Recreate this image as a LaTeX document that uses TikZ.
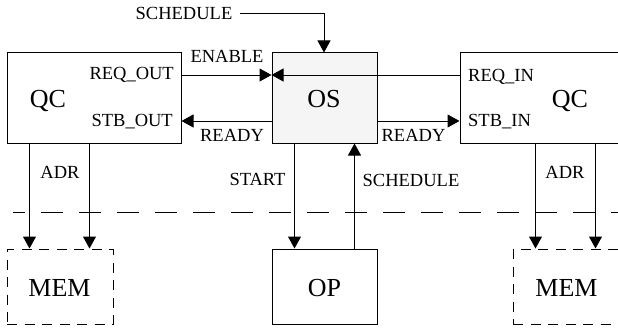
\documentclass[tikz,border=0pt]{standalone}
\usepackage{fontspec}
\setmainfont{Liberation Serif}
\usetikzlibrary{arrows.meta}
\begin{document}
\begin{tikzpicture}[x=1pt,y=-1pt,
  box/.style={draw,line width=1pt,inner sep=0pt},
  membox/.style={box,dash pattern=on 10pt off 7.5pt},
  arr/.style={line width=1pt,-{Triangle[length=12pt,width=13pt]}},
  sm/.style={inner sep=0pt,font=\fontsize{18.5}{20}\selectfont},
  big/.style={inner sep=0pt,font=\fontsize{26}{28}\selectfont}]
\useasboundingbox (0,0) rectangle (618,329);
% boxes
\node[box,minimum width=174pt,minimum height=90pt] (qcl) at (94,98) {};
\node[box,fill=black!4,minimum width=105pt,minimum height=90pt] (os) at (324.5,98) {};
\node[box,minimum width=170pt,minimum height=90pt] (qcr) at (545,98) {};
\node[box,minimum width=105pt,minimum height=75pt] (op) at (324.5,286.5) {};
\node[membox,minimum width=106pt,minimum height=75pt] (meml) at (60,286.5) {};
\node[membox,minimum width=120pt,minimum height=75pt] (memr) at (573,286.5) {};
% texts
\node[big,anchor=base] (tqcl) at (48,107) {QC};
\node[big,anchor=base] (tos) at (324,107) {OS};
\node[big,anchor=base] (tqcr) at (570,107) {QC};
\node[big,anchor=base] (top) at (324.5,296.5) {OP};
\node[big,anchor=base] (tmeml) at (59.5,296.5) {MEM};
\node[big,anchor=base] (tmemr) at (566.5,296.5) {MEM};
\node[sm,anchor=base east] (lreqo) at (174,79.5) {REQ\_OUT};
\node[sm,anchor=base east] (lstbo) at (173,126) {STB\_OUT};
\node[sm,anchor=base west] (lreqi) at (468,81.5) {REQ\_IN};
\node[sm,anchor=base west] (lstbi) at (468,126.5) {STB\_IN};
\node[sm,anchor=base] (lena) at (227,63) {ENABLE};
\node[sm,anchor=base] (lrdyl) at (232,141.5) {READY};
\node[sm,anchor=base] (lrdyr) at (413.5,141.5) {READY};
\node[sm,anchor=base] (lscht) at (184,19.5) {SCHEDULE};
\node[sm,anchor=base] (ladrl) at (60,178) {ADR};
\node[sm,anchor=base] (ladrr) at (565,178) {ADR};
\node[sm,anchor=base] (lstart) at (257.5,185) {START};
\node[sm,anchor=base] (lschb) at (411,186.5) {SCHEDULE};
% connectors
\draw[arr] ([yshift=23pt]qcl.east) -- ([yshift=23pt]os.west);
\draw[arr] ([yshift=23pt]qcr.west) -- ([yshift=23pt]os.west);
\draw[arr] ([yshift=-23pt]os.west) -- ([yshift=-23pt]qcl.east);
\draw[arr] ([yshift=-23pt]os.west -| os.east) -- ([yshift=-23pt]qcr.west);
\coordinate (schs) at (240,14);
\draw[arr] (schs) -| ([xshift=-0.5pt]os.north);
\draw[arr] ([xshift=-30pt]os.south) -- ([xshift=-30pt]op.north);
\draw[arr] ([xshift=30pt]op.north) -- ([xshift=30pt]os.south);
\draw[arr] ([xshift=23pt]qcl.south west) -- ([xshift=23pt]meml.north west);
\draw[arr] ([xshift=83pt]qcl.south west) -- ([xshift=83pt]meml.north west);
\draw[arr] ([xshift=76pt]qcr.south west) -- ([xshift=23pt]memr.north west);
\draw[arr] ([xshift=136pt]qcr.south west) -- ([xshift=83pt]memr.north west);
\coordinate (dl) at (13,212);
\coordinate (dr) at (630,212);
\draw[line width=1pt,dash pattern=on 22pt off 16pt,dash phase=10pt] (dl) -- (dr);
\end{tikzpicture}
\end{document}
